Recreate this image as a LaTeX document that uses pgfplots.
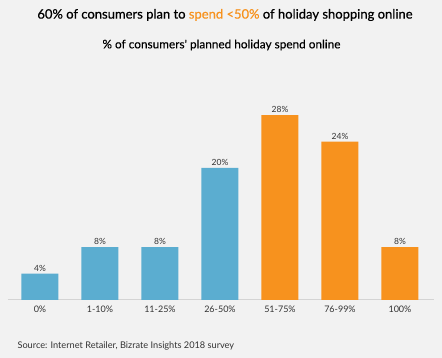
\documentclass[border=0pt]{standalone}
\usepackage{fontspec}
\setmainfont{Lato}
\newfontfamily\medfont[FakeBold=0.5]{Lato}
\newfontfamily\semfont[FakeBold=0.3]{Lato}
\usepackage{pgfplots}
\pgfplotsset{compat=1.18}
\definecolor{bg}{HTML}{F2F2F2}
\definecolor{cblue}{HTML}{5BADD0}
\definecolor{corange}{HTML}{F7921E}
\definecolor{txt}{HTML}{333333}
\definecolor{axl}{HTML}{D4D4D4}
\begin{document}
\begin{tikzpicture}[x=1pt,y=1pt]
\path[fill=bg, use as bounding box] (0,0) rectangle (442,358);
\node[font=\medfont\fontsize{13}{15}\selectfont, text=black] at (225,343) {60\% of consumers plan to \textcolor{corange}{spend <50\%} of holiday shopping online};
\node[font=\semfont\fontsize{11.8}{14}\selectfont, text=black] at (221.5,313) {\% of consumers' planned holiday spend online};
\node[font=\fontsize{9.2}{11}\selectfont, text=txt, anchor=west] at (14,12) {Source: Internet Retailer, Bizrate Insights 2018 survey};
\begin{axis}[
  at={(8pt,58pt)}, anchor=south west,
  scale only axis, width=426pt, height=198pt,
  xmin=-0.533, xmax=6.567, ymin=0, ymax=30,
  axis x line=bottom, axis y line=none,
  x axis line style={draw=axl, line width=1pt, -},
  clip=false,
  ybar, bar width=37pt, bar shift=0pt,
  xtick={0,1,2,3,4,5,6},
  xticklabels={0\%,1-10\%,11-25\%,26-50\%,51-75\%,76-99\%,100\%},
  major tick length=0pt,
  x tick label style={font=\fontsize{9}{10}\selectfont, text=txt, yshift=-2pt},
  /pgf/number format/assume math mode=true,
  nodes near coords={\pgfmathprintnumber{\pgfplotspointmeta}\%},
  every node near coord/.append style={font=\fontsize{8.5}{10}\selectfont, text=txt, inner sep=2pt},
]
\addplot[fill=cblue, draw=none] coordinates {(0,4) (1,8) (2,8) (3,20)};
\addplot[fill=corange, draw=none] coordinates {(4,28) (5,24) (6,8)};
\end{axis}
\end{tikzpicture}
\end{document}
